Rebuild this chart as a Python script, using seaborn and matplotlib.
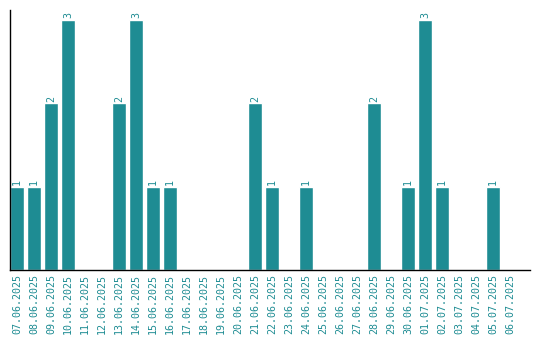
import matplotlib
matplotlib.use("Agg")
import matplotlib.pyplot as plt
import seaborn as sns
import pandas as pd

dates = ["07.06.2025", "08.06.2025", "09.06.2025", "10.06.2025", "11.06.2025",
         "12.06.2025", "13.06.2025", "14.06.2025", "15.06.2025", "16.06.2025",
         "17.06.2025", "18.06.2025", "19.06.2025", "20.06.2025", "21.06.2025",
         "22.06.2025", "23.06.2025", "24.06.2025", "25.06.2025", "26.06.2025",
         "27.06.2025", "28.06.2025", "29.06.2025", "30.06.2025", "01.07.2025",
         "02.07.2025", "03.07.2025", "04.07.2025", "05.07.2025", "06.07.2025"]
counts = [1, 1, 2, 3, 0, 0, 2, 3, 1, 1,
          0, 0, 0, 0, 2, 1, 0, 1, 0, 0,
          0, 2, 0, 1, 3, 1, 0, 0, 1, 0]

teal = "#1e8c93"
df = pd.DataFrame({"date": dates, "count": counts})

sns.set_style("white")
plt.rcParams['font.family'] = ['DejaVu Sans Mono', 'DejaVu Sans']

fig = plt.figure(figsize=(5.4, 3.4), dpi=100)
ax = fig.add_axes([10 / 540, 70 / 340, 520 / 540, 260 / 340])
sns.barplot(data=df, x="date", y="count", color=teal, saturation=1, width=0.82, ax=ax)

for i, v in enumerate(counts):
    if v > 0:
        ax.text(i, v + 0.02, str(v), rotation=90, ha="center", va="bottom",
                color=teal, fontsize=7.2)

ax.set_xlim(-0.41, 30.18)
ax.set_ylim(0, 3.12)
ax.set_xlabel("")
ax.set_ylabel("")
ax.set_yticks([])
ax.tick_params(axis="x", length=0, pad=3, labelsize=7.2, labelcolor=teal, rotation=90)
for lab in ax.get_xticklabels():
    lab.set_va("top")
for s in ["top", "right"]:
    ax.spines[s].set_visible(False)
for s in ["left", "bottom"]:
    ax.spines[s].set_color("black")
    ax.spines[s].set_linewidth(1)

fig.savefig("out.png", dpi=100)
